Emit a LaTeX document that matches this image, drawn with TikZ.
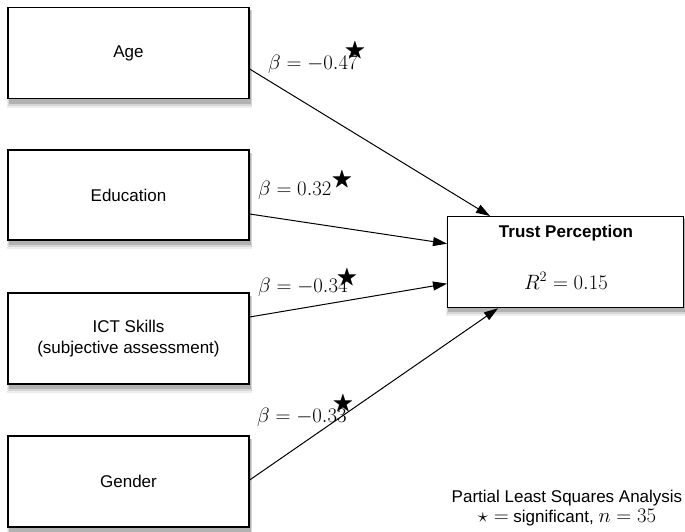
\documentclass[tikz,border=0pt]{standalone}
\usepackage{amssymb}
\usepackage{fontspec}
\setmainfont{Liberation Sans}
\usetikzlibrary{arrows.meta,calc}
\begin{document}
\begin{tikzpicture}[x=1pt,y=-1pt,
  box/.style={draw=black,line width=1.3pt,fill=white,minimum width=241pt,minimum height=91pt,
    align=center,font=\fontsize{17}{21}\selectfont},
  shd/.style={fill=black!#1,draw=none},
  conn/.style={line width=1pt,-{Triangle[length=14pt,width=9pt]}},
  beta/.style={anchor=base west,inner sep=0pt,font=\fontsize{20}{24}\selectfont},
  sig/.style={inner sep=0pt,font=\fontsize{22}{26}\selectfont}]
\useasboundingbox (0,0) rectangle (685,531);
% soft shadows drawn first, behind the boxes
\foreach \xa/\ya/\xb/\yb in {8/7/249/99, 8/150/249/240, 8/293/249/384, 8/436/249/527, 447/216/683/307}{
  \fill[shd=7]  (\xa-1,\ya+3) rectangle (\xb+3,\yb+9);
  \fill[shd=16] (\xa,\ya+3) rectangle (\xb+2.5,\yb+7);
  \fill[shd=30] (\xa+0.5,\ya+3) rectangle (\xb+1.5,\yb+5);
}
\node[box] (age) at (128.5,53) {Age};
\node[box,minimum height=90pt] (edu) at (128.5,195) {Education};
\node[box] (ict) at (128.5,338.5) {ICT Skills\\(subjective assessment)};
\node[box] (gen) at (128.5,481.5) {Gender};
\node[box,minimum width=236pt,anchor=north west,inner sep=0pt] (trust) at (447,216) {};
\node[font=\fontsize{17}{20}\selectfont\bfseries] (ttl) at (566,233) {Trust Perception};
\node[font=\fontsize{20}{24}\selectfont] (r2) at (566,281) {$R^2 = 0.15$};

\draw[conn] ([yshift=-16pt]age.east) -- ([xshift=43pt]trust.north west);
\draw[conn] ([yshift=-19pt]edu.east) -- ([yshift=18.5pt]trust.west);
\draw[conn] ([yshift=21.5pt]ict.east) -- ([yshift=-21.5pt]trust.west);
\draw[conn] ([yshift=1.5pt]gen.east) -- ([xshift=51pt]trust.south west);

\node[beta] (l1) at (268,69) {$\beta = -0.47$};
\node[beta] (l2) at (258,195) {$\beta = 0.32$};
\node[beta] (l3) at (258,292) {$\beta = -0.34$};
\node[beta] (l4) at (257,422) {$\beta = -0.33$};
\node[sig] (s1) at (355,51) {$\bigstar$};
\node[sig] (s2) at (342,180) {$\bigstar$};
\node[sig] (s3) at (347,278) {$\bigstar$};
\node[sig] (s4) at (343,404) {$\bigstar$};

\node[align=center,font=\fontsize{17}{20.5}\selectfont] (note) at (567,508)
  {Partial Least Squares Analysis\\{\fontsize{20}{20}\selectfont$\star =$} significant, {\fontsize{20}{20}\selectfont$n = 35$}};
\end{tikzpicture}
\end{document}
